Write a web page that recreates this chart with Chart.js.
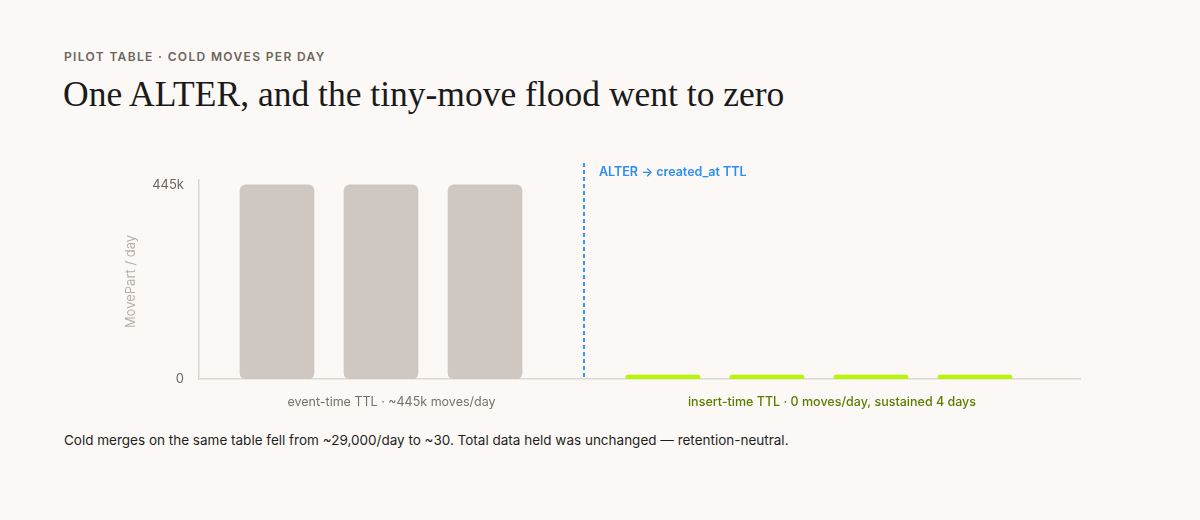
<!DOCTYPE html>
<html>
<head>
<meta charset="utf-8">
<script src="https://cdn.jsdelivr.net/npm/chart.js@4.4.1/dist/chart.umd.min.js"></script>
<style>
  html, body { margin:0; padding:0; background:#fbf8f5; width:1200px; height:520px; overflow:hidden; }
  .eyebrow { position:absolute; left:64px; top:49px; font-family:Inter, sans-serif; font-size:12px; font-weight:600; letter-spacing:1.35px; color:#6b6560; }
  .title { position:absolute; left:63px; top:73px; font-family:"Liberation Serif", serif; font-size:35.5px; color:#1a1a1a; }
  .foot { position:absolute; left:64px; top:432px; font-family:Inter, sans-serif; font-size:13.5px; color:#1f1f1f; }
  #wrap { position:absolute; left:64px; top:150px; width:1040px; height:270px; }
</style>
</head>
<body>
<div class="eyebrow">PILOT TABLE · COLD MOVES PER DAY</div>
<div class="title">One ALTER, and the tiny-move flood went to zero</div>
<div id="wrap"><canvas id="c"></canvas></div>
<div class="foot">Cold merges on the same table fell from ~29,000/day to ~30. Total data held was unchanged — retention-neutral.</div>
<script>
// ---- data ----
const beforeDays = [1, 2, 3];
const beforeMoves = [445000, 445000, 445000];
const afterDays = [1, 2, 3, 4];
const afterMoves = [0, 0, 0, 0];
const yTicks = [0, 445000];
const yTitle = 'MovePart / day';
const beforeLabel = 'event-time TTL · ~445k moves/day';
const afterLabel = 'insert-time TTL · 0 moves/day, sustained 4 days';
const alterLabel = 'ALTER → created_at TTL';

// ---- layout (slot positions on the x scale) ----
const AFTER_START = 4.71, ALTER_POS = 3.95, X_MIN = 0.25, X_MAX = 8.72, Y_MAX = 456000;

const beforeData = beforeDays.map((d, i) => ({ x: d, y: beforeMoves[i] }));
const afterData = afterDays.map((d, i) => ({ x: AFTER_START + (d - 1), y: afterMoves[i] }));

const GRAY = '#cfc8c2', LIME = '#b8f406', BLUE = '#3597f2', OLIVE = '#5a7d00', AXIS = '#ddd7d1';

const overlay = {
  id: 'overlay',
  afterDatasetsDraw(chart) {
    const { ctx, chartArea: a, scales: { x, y } } = chart;
    const ax = Math.round(x.getPixelForValue(ALTER_POS));
    ctx.save();
    // dashed ALTER line
    ctx.strokeStyle = BLUE; ctx.lineWidth = 2; ctx.setLineDash([4, 3]);
    ctx.beginPath(); ctx.moveTo(ax, a.top - 17); ctx.lineTo(ax, a.bottom); ctx.stroke();
    ctx.setLineDash([]);
    ctx.fillStyle = '#2b8ef2'; ctx.font = '600 12.5px Inter, sans-serif';
    ctx.textAlign = 'left'; ctx.textBaseline = 'middle';
    ctx.fillText(alterLabel, ax + 15, a.top - 8);
    // group labels
    ctx.font = '12.5px Inter, sans-serif'; ctx.textAlign = 'center';
    ctx.fillStyle = '#77716b';
    ctx.fillText(beforeLabel, (a.left + ax) / 2, a.bottom + 23);
    ctx.fillStyle = OLIVE; ctx.font = '500 12.5px Inter, sans-serif';
    ctx.fillText(afterLabel, (ax + a.right) / 2, a.bottom + 23);
    // y title
    ctx.fillStyle = '#b7b0aa'; ctx.font = '13px Inter, sans-serif';
    ctx.translate(a.left - 68, (a.top + a.bottom) / 2 + 2);
    ctx.rotate(-Math.PI / 2);
    ctx.fillText(yTitle, 0, 0);
    ctx.restore();
  }
};

new Chart(document.getElementById('c'), {
  type: 'bar',
  data: {
    datasets: [
      { data: beforeData, backgroundColor: GRAY, borderRadius: 6, borderSkipped: false, barThickness: 74, grouped: false },
      { data: afterData, backgroundColor: LIME, borderRadius: 2, borderSkipped: false, barThickness: 74, minBarLength: 4, grouped: false }
    ]
  },
  options: {
    responsive: true, maintainAspectRatio: false, animation: false,
    layout: { padding: { top: 30, right: 24, bottom: 41, left: 0 } },
    plugins: { legend: { display: false }, tooltip: { enabled: false } },
    scales: {
      x: {
        type: 'linear', min: X_MIN, max: X_MAX, offset: false,
        grid: { display: false, drawTicks: false },
        border: { color: AXIS, width: 1.5 },
        ticks: { display: false },
        afterFit(s) { s.height = 0; }
      },
      y: {
        min: 0, max: Y_MAX,
        grid: { display: false, drawTicks: false },
        border: { color: AXIS, width: 1.5 },
        afterBuildTicks(s) { s.ticks = yTicks.map(v => ({ value: v })); },
        afterFit(s) { s.width = 135; },
        ticks: {
          padding: 15, color: '#6b6560', font: { family: 'Inter, sans-serif', size: 13 },
          callback: v => v === 0 ? '0' : Math.round(v / 1000) + 'k'
        }
      }
    }
  },
  plugins: [overlay]
});
</script>
</body>
</html>
